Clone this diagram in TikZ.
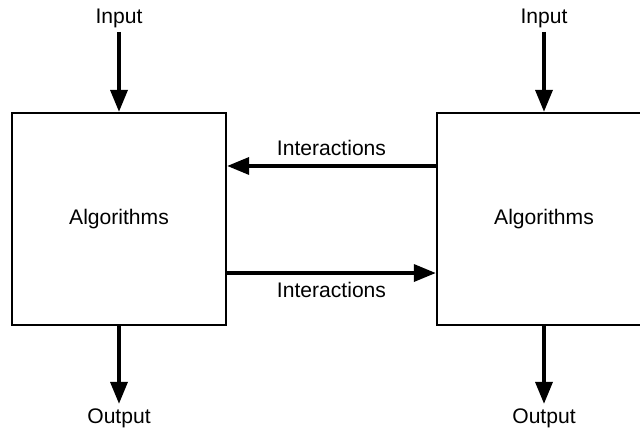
\documentclass[tikz,border=0pt]{standalone}
\usepackage{fontspec}
\setmainfont{Liberation Sans}
\usetikzlibrary{arrows.meta}
\begin{document}
\begin{tikzpicture}[x=0.025cm, y=-0.025cm, >={Triangle[length=0.55cm,width=0.42cm]}, font=\fontsize{15}{18}\selectfont]
        \tikzset{algbox/.style={draw, line width=1.5pt, minimum width=5.35cm, minimum height=5.3cm, inner sep=0pt},
                 flow/.style={->, line width=2.8pt},
                 lbl/.style={inner sep=3pt}}
        \useasboundingbox (0,0) rectangle (640,439);
        \clip (0,0) rectangle (640,439);
        \node[algbox] (algL) at (119,219) {Algorithms};
        \node[algbox] (algR) at (544,219) {Algorithms};
        \node[lbl] (inL) at (119,18) {Input};
        \node[lbl] (inR) at (544,18) {Input};
        \node[lbl] (outL) at (119,418) {Output};
        \node[lbl] (outR) at (544,418) {Output};
        \coordinate (topR) at ([yshift=1.325cm]algR.west);
        \coordinate (topL) at ([yshift=1.325cm]algL.east);
        \coordinate (botL) at ([yshift=-1.35cm]algL.east);
        \coordinate (botR) at ([yshift=-1.35cm]algR.west);
        \draw[flow] (inL) -- (algL);
        \draw[flow] (inR) -- (algR);
        \draw[flow] (algL) -- (outL);
        \draw[flow] (algR) -- (outR);
        \draw[flow] (topR) -- node[lbl, above, inner sep=6pt] (intTop) {Interactions} (topL);
        \draw[flow] (botL) -- node[lbl, below, inner sep=5.5pt] (intBot) {Interactions} (botR);
    \end{tikzpicture}
\end{document}
